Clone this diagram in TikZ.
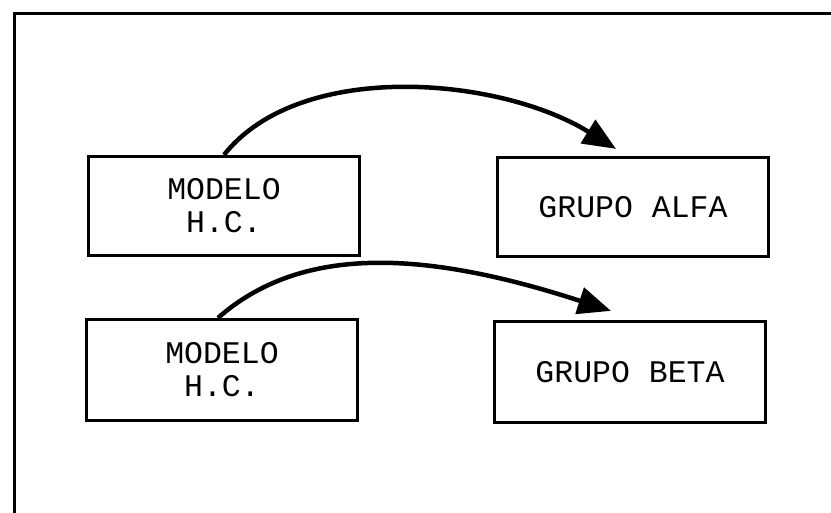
\documentclass[tikz,border=0pt]{standalone}
\usepackage{fontspec}
\newfontfamily\plotfont{Liberation Mono}
\usetikzlibrary{arrows.meta}

\begin{document}
\begin{tikzpicture}[x=1pt, y=-1pt,
    every node/.style={font=\plotfont\fontsize{31.5}{33}\selectfont},
    box/.style={draw, rectangle, line width=3.2pt, minimum width=271pt, minimum height=99pt, inner sep=0pt, align=center},
    link/.style={line width=4.5pt, -{Triangle[length=33pt,width=27pt]}}]
    \useasboundingbox (0,0) rectangle (831,513);
    % frame (top and left side only)
    \draw[line width=3pt] (831,14) -- (14,14) -- (14,513);

    % upper pair
    \node[box] (modelo1) at (224,206) {MODELO\\H.C.};
    \node[box] (alfa) at (633,207) {GRUPO ALFA};
    \draw[link] (modelo1.north) .. controls +(76,-96) and +(-116,-72) .. ([shift={(-17,-7)}]alfa.north);

    % lower pair
    \node[box, minimum height=101pt] (modelo2) at (222,370) {MODELO\\H.C.};
    \node[box, minimum height=101pt] (beta) at (630,372) {GRUPO BETA};
    \draw[link] ([xshift=-4]modelo2.north) .. controls +(82,-72) and +(-191,-62) .. ([shift={(-19,-9)}]beta.north);
\end{tikzpicture}
\end{document}
